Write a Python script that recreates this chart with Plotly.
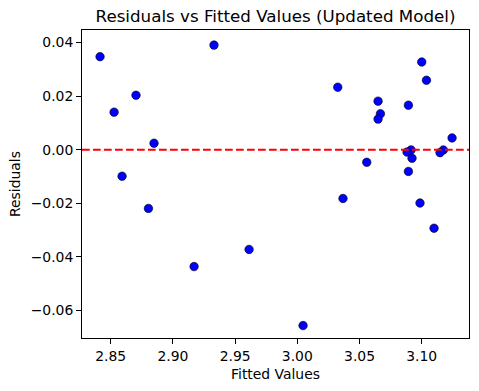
import plotly.graph_objects as go

fitted = [2.8414, 2.8527, 2.8703, 2.8848, 2.8591, 2.8803, 2.9330, 2.9170,
          3.1000, 3.1038, 3.0325, 3.0649, 3.0893, 3.0668, 3.0649, 3.1244,
          3.0914, 3.0882, 3.0922, 3.1174, 3.1147, 3.0558, 3.0893, 3.0367,
          3.0986, 2.9612, 3.1099, 3.0046]
residuals = [0.0347, 0.0140, 0.0203, 0.0024, -0.0099, -0.0219, 0.0390, -0.0436,
             0.0327, 0.0259, 0.0233, 0.0181, 0.0166, 0.0134, 0.0114, 0.0044,
             -0.0001, -0.0009, -0.0032, -0.0001, -0.0011, -0.0047, -0.0081, -0.0182,
             -0.0199, -0.0372, -0.0293, -0.0656]

x_ticks = [2.85, 2.90, 2.95, 3.00, 3.05, 3.10]
x_ticktext = ["2.85", "2.90", "2.95", "3.00", "3.05", "3.10"]
y_ticks = [0.04, 0.02, 0.0, -0.02, -0.04, -0.06]
y_ticktext = ["0.04", "0.02", "0.00", "\u22120.02", "\u22120.04", "\u22120.06"]

fig = go.Figure()
fig.add_trace(go.Scatter(
    x=fitted, y=residuals, mode="markers",
    marker=dict(color="#0000ff", size=8.5, line=dict(color="black", width=0.6)),
    showlegend=False,
))
fig.add_hline(y=0, line=dict(color="#ff0000", width=2, dash="7.7px,3.3px"))

axis_common = dict(showline=True, linecolor="black", linewidth=1.1, mirror=True,
                   ticks="outside", ticklen=4.9, tickwidth=1.1, tickcolor="black",
                   showgrid=False, zeroline=False, automargin=False,
                   tickfont=dict(size=13.9, color="black"))

fig.update_layout(
    width=479, height=391,
    margin=dict(l=82, r=10, t=30, b=53),
    paper_bgcolor="white", plot_bgcolor="white",
    font=dict(family="DejaVu Sans", color="black"),
    title=dict(text="Residuals vs Fitted Values (Updated Model)",
               x=(82 + 469) / 2 / 479, xanchor="center",
               y=1 - 16 / 391, yanchor="middle",
               font=dict(size=16.7, color="black")),
    xaxis=dict(range=[2.8269, 3.138], tickvals=x_ticks, ticktext=x_ticktext,
               title=dict(text="Fitted Values", font=dict(size=13.9), standoff=6),
               **axis_common),
    yaxis=dict(range=[-0.07024, 0.04464], tickvals=y_ticks, ticktext=y_ticktext,
               title=dict(text="Residuals", font=dict(size=13.9), standoff=6),
               **axis_common),
)

fig.write_html("out.html",
               config={"displayModeBar": False},
               post_script="document.body.style.margin='0';document.body.style.overflow='hidden';")
